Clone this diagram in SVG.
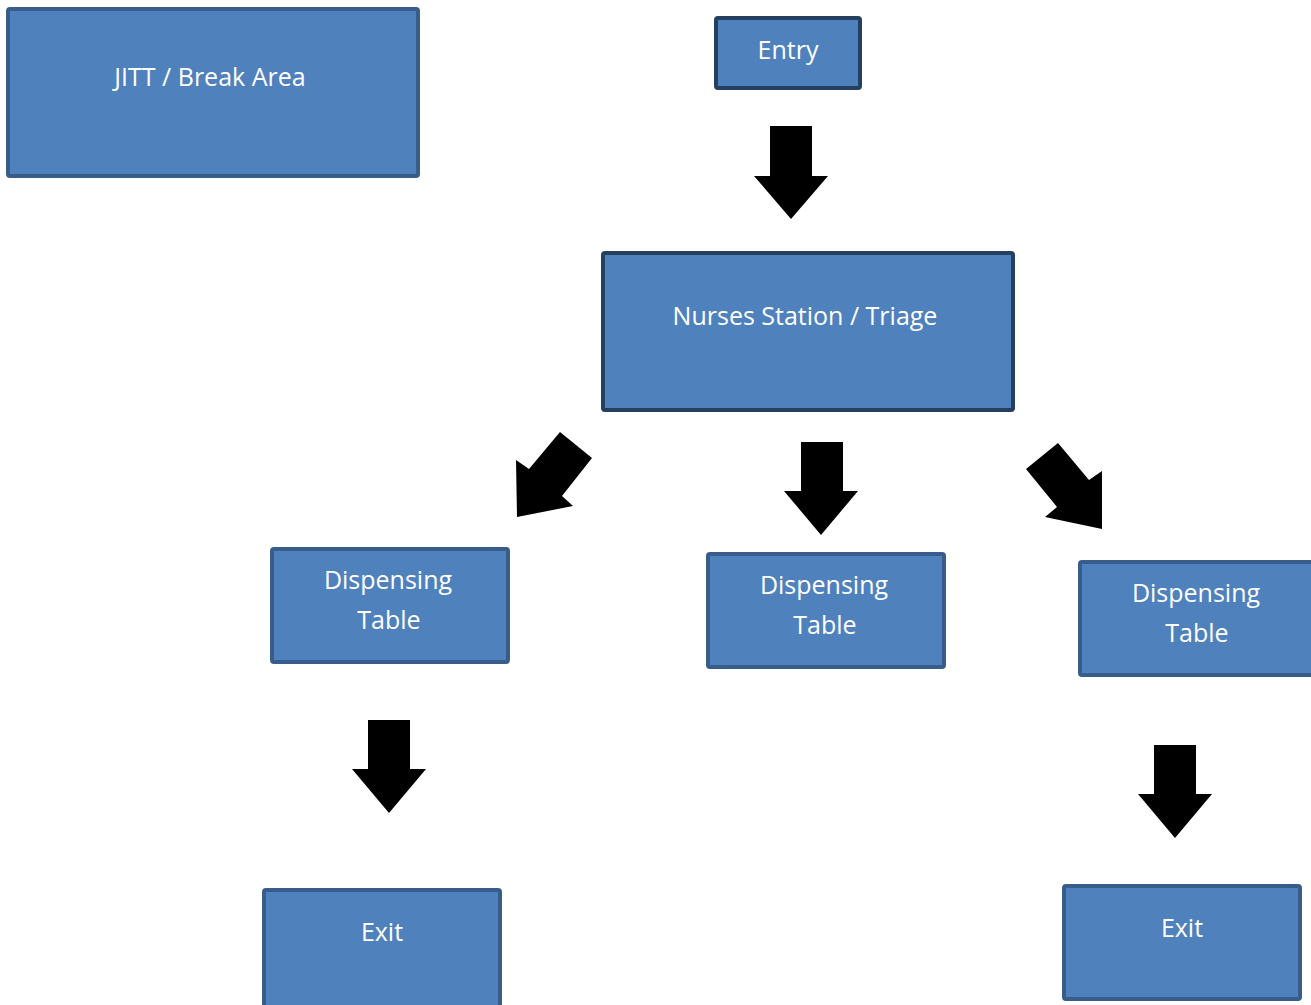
<svg xmlns="http://www.w3.org/2000/svg" width="1311" height="1005" viewBox="0 0 1311 1005">
  <style>
    .box { fill: #4F81BD; stroke: #385D8A; stroke-width: 4; }
    .box.dark { stroke: #243F60; }
    .lbl { fill: #FFFFFF; font-family: "Open Sans", "Noto Sans", sans-serif; font-size: 25px; text-anchor: middle; }
    .arrow { fill: #000000; }
  </style>
  <rect width="1311" height="1005" fill="#FFFFFF"/>

  <g id="jitt-break-area">
    <rect class="box" x="8" y="9" width="410" height="167" rx="2"/>
    <text class="lbl" x="210" y="86">JITT / Break Area</text>
  </g>

  <g id="entry">
    <rect class="box dark" x="716" y="18" width="144" height="70" rx="2"/>
    <text class="lbl" x="788" y="59">Entry</text>
  </g>

  <g id="nurses-station">
    <rect class="box dark" x="603" y="253" width="410" height="157" rx="2"/>
    <text class="lbl" x="805" y="325">Nurses Station / Triage</text>
  </g>

  <g id="dispensing-left">
    <rect class="box" x="272" y="549" width="236" height="113" rx="2"/>
    <text class="lbl" x="388" y="589">Dispensing</text>
    <text class="lbl" x="389" y="629">Table</text>
  </g>

  <g id="dispensing-center">
    <rect class="box" x="708" y="554" width="236" height="113" rx="2"/>
    <text class="lbl" x="824" y="594">Dispensing</text>
    <text class="lbl" x="825" y="634">Table</text>
  </g>

  <g id="dispensing-right">
    <rect class="box" x="1080" y="562" width="236" height="113" rx="2"/>
    <text class="lbl" x="1196" y="602">Dispensing</text>
    <text class="lbl" x="1197" y="642">Table</text>
  </g>

  <g id="exit-left">
    <rect class="box" x="264" y="890" width="236" height="118" rx="2"/>
    <text class="lbl" x="382" y="941">Exit</text>
  </g>

  <g id="exit-right">
    <rect class="box" x="1064" y="886" width="236" height="113" rx="2"/>
    <text class="lbl" x="1182" y="937">Exit</text>
  </g>

  <g id="connectors">
    <!-- Entry to triage -->
    <polygon class="arrow" points="770,126 812,126 812,176 828,176 791,219 754,176 770,176"/>
    <!-- Triage to left table -->
    <polygon class="arrow" points="560,432 592,458 562,496 573,506 517,517 516,460 529,469"/>
    <!-- Triage to center table -->
    <polygon class="arrow" points="801,442 843,442 843,491 858,491 821,535 784,491 801,491"/>
    <!-- Triage to right table -->
    <polygon class="arrow" points="1058,443 1026,469 1057,507 1045,517 1102,529 1102,471 1089,480"/>
    <!-- Left table to exit -->
    <polygon class="arrow" points="368,720 410,720 410,769 426,769 389,813 352,769 368,769"/>
    <!-- Right table to exit -->
    <polygon class="arrow" points="1154,745 1196,745 1196,794 1212,794 1175,838 1138,794 1154,794"/>
  </g>
</svg>
